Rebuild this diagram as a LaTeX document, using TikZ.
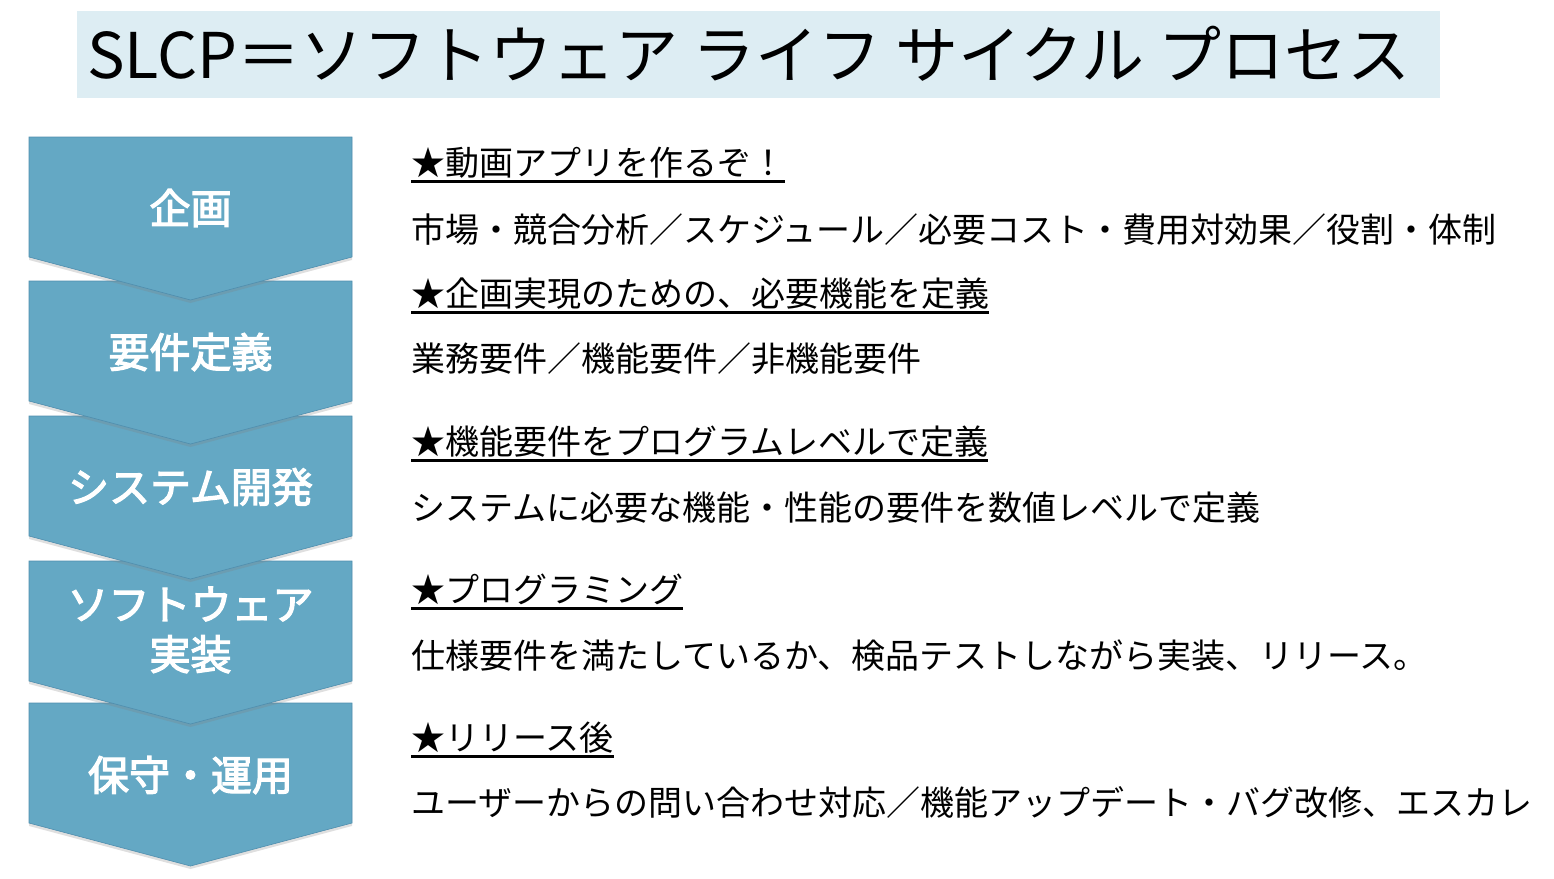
\documentclass[tikz,border=0pt]{standalone}
\usepackage{fontspec}
\setmainfont{Noto Sans CJK JP}
\newfontfamily\slcpLabelFont[FakeBold=3]{Noto Sans CJK JP}
\usepackage{xcolor}
\usepackage{tikz}
\usetikzlibrary{shapes,shadows,calc}
\definecolor{slcpBlue}{HTML}{64A8C4}
\definecolor{slcpEdge}{HTML}{4F8EAE}
\definecolor{slcpTitle}{HTML}{DDEDF3}
\newcommand{\slcpUline}[1]{\setbox0\hbox{#1}\rlap{\rule[-7.5pt]{\wd0}{2.5pt}}\box0}
\tikzstyle{tsChevron} = [
    fill=slcpBlue,
    draw=slcpEdge,
    line width=0.6pt,
    drop shadow={opacity=0.25, shadow xshift=0pt, shadow yshift=-3pt}
]
\tikzstyle{tsStepLabel} = [
    text=white,
    font=\slcpLabelFont\fontsize{41}{50}\selectfont,
    align=center
]
\tikzstyle{tsLine} = [
    anchor=base west,
    text=black,
    inner sep=0pt,
    font=\fontsize{34}{40}\selectfont
]

\begin{document}
\begin{tikzpicture}[x=1pt, y=-1pt]
        \useasboundingbox (0,0) rectangle (1554,878);

        % title
        \node[  fill=slcpTitle,
                minimum width=1363pt,
                minimum height=87pt,
                inner sep=0pt] (titlebox) at (758.5,54.5) { };
        \node[anchor=west, inner sep=0pt, font=\fontsize{63}{70}\selectfont] (title) at (87,54) {SLCP＝ソフトウェア ライフ サイクル プロセス};

        % chevrons, last one first
        \foreach \top in {703,561,416,281,137}
            \draw[tsChevron] (29,\top) -- (352,\top) -- (352,\top+120) -- (190.5,\top+163) -- (29,\top+120) -- cycle;

        \node[tsStepLabel] (plan) at (190.5,208) {企画};
        \node[tsStepLabel] (reqdef) at (190.5,352) {要件定義};
        \node[tsStepLabel] (sysdev) at (190.5,487) {システム開発};
        \node[tsStepLabel] (swimpl) at (190.5,630) {ソフトウェア\\実装};
        \node[tsStepLabel] (maint) at (190.5,775) {保守・運用};

        % right column
        \node[tsLine] (headA) at (411,175) {\slcpUline{★動画アプリを作るぞ！}};
        \node[tsLine] (bodyA) at (411,242) {市場・競合分析／スケジュール／必要コスト・費用対効果／役割・体制};
        \node[tsLine] (headB) at (411,306) {\slcpUline{★企画実現のための、必要機能を定義}};
        \node[tsLine] (bodyB) at (411,371) {業務要件／機能要件／非機能要件};
        \node[tsLine] (headC) at (411,454) {\slcpUline{★機能要件をプログラムレベルで定義}};
        \node[tsLine] (bodyC) at (411,520) {システムに必要な機能・性能の要件を数値レベルで定義};
        \node[tsLine] (headD) at (411,602) {\slcpUline{★プログラミング}};
        \node[tsLine] (bodyD) at (411,668) {仕様要件を満たしているか、検品テストしながら実装、リリース。};
        \node[tsLine] (headE) at (411,750) {\slcpUline{★リリース後}};
        \node[tsLine] (bodyE) at (411,815) {ユーザーからの問い合わせ対応／機能アップデート・バグ改修、エスカレ};
\end{tikzpicture}
\end{document}
